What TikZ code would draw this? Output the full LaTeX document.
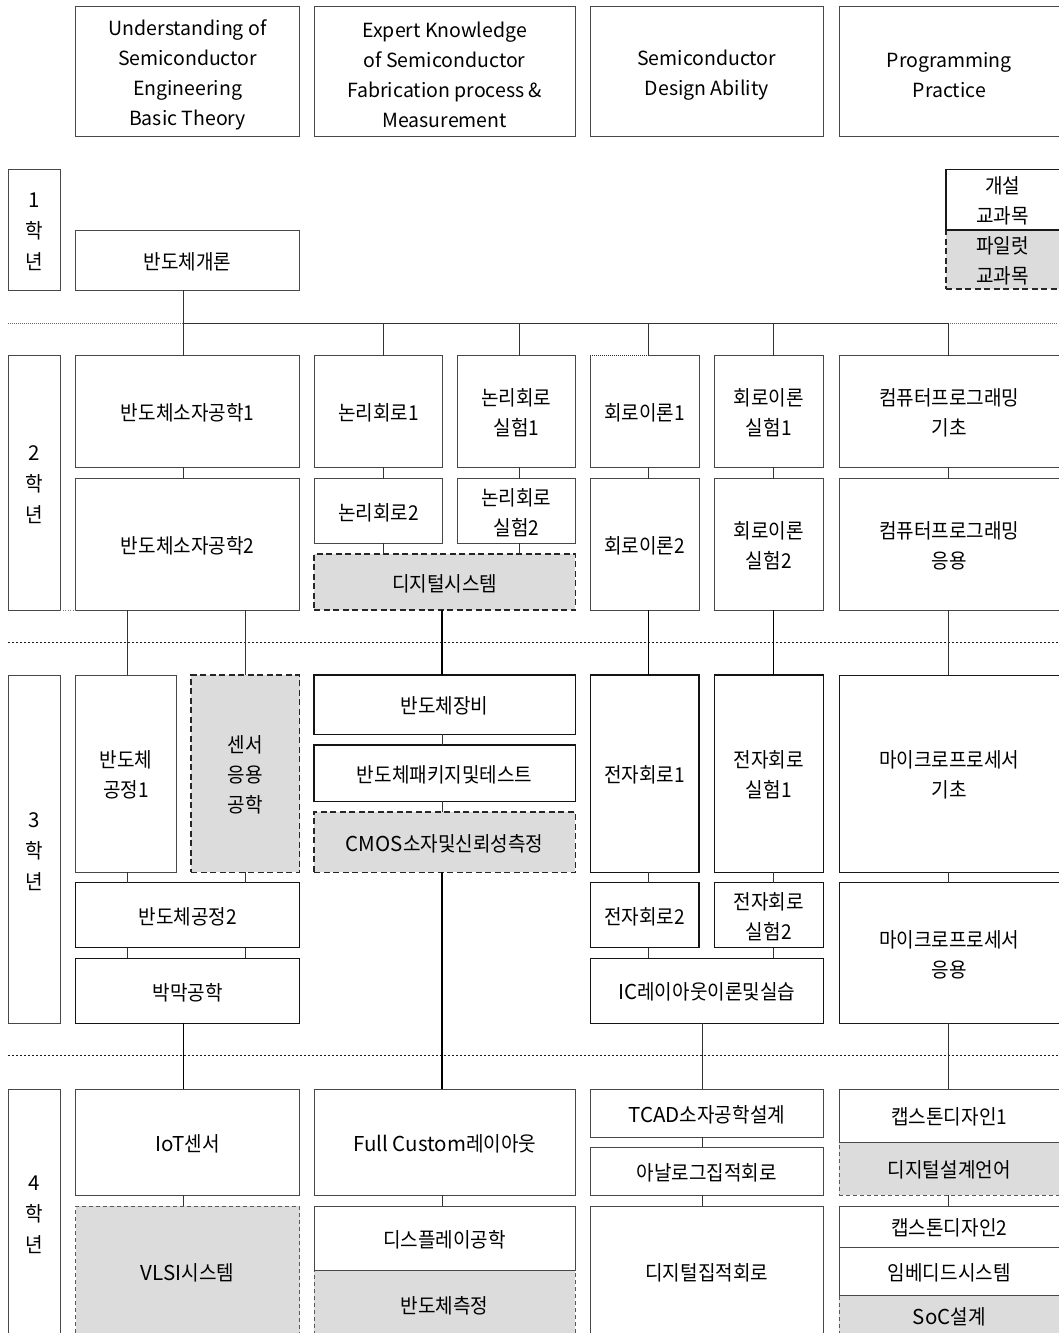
\documentclass[tikz,border=0pt]{standalone}
\usepackage{fontspec}
\setmainfont{Noto Sans CJK KR}
\newfontfamily\kr[FakeStretch=0.93]{Noto Sans CJK KR}
\newfontfamily\la{Noto Sans CJK KR}
\definecolor{pilc}{RGB}{220,220,220}
\newcommand\bx[8][]{%
 \pgfmathsetmacro\bxw{#5-#3}\pgfmathsetmacro\bxh{#6-#4}%
 \node[box,#7,anchor=north west,minimum width=\bxw pt,minimum height=\bxh pt] (#2) at (#3,#4) {};
 \node[txt,#1] (#2t) at ([yshift=-1.5pt]#2.center) {#8};}
\begin{document}
\begin{tikzpicture}[x=1pt,y=-1pt,
  box/.style={draw=black!72, line width=0.9pt, inner sep=0pt, outer sep=0pt},
  txt/.style={align=center, inner sep=0pt, font=\kr\fontsize{20.5}{30}\selectfont},
  dk/.style={draw=black!92, line width=1.3pt},
  pil/.style={fill=pilc},
  dsh/.style={pil, draw=black!85, line width=1.3pt, dash pattern=on 6pt off 3.5pt},
  tdsh/.style={pil, draw=black!65, line width=0.8pt, dash pattern=on 4pt off 3pt},
  conn/.style={draw=black!80, line width=1pt},
  hdr/.style={font=\la\fontsize{19.5}{30}\selectfont, yshift=-2.5pt},
  lab/.style={font=\kr\fontsize{20.5}{31}\selectfont, yshift=-0.5pt},
  sepA/.style={draw=black!60, line width=0.7pt, dash pattern=on 1pt off 1pt},
  sepB/.style={draw=black!90, line width=1.2pt, dash pattern=on 2pt off 2pt},
]
\useasboundingbox (0,0) rectangle (1058,1333);
% column coordinates for connectors
\coordinate (xA) at (183.2,0);
\coordinate (xB) at (383,0);
\coordinate (xC) at (519.9,0);
\coordinate (xD) at (648.3,0);
\coordinate (xE) at (773.7,0);
\coordinate (xF) at (948,0);
\coordinate (xG) at (127.8,0);
\coordinate (xH) at (245.7,0);
\coordinate (xI) at (442.1,0);
\coordinate (xJ) at (702.8,0);

% separators
\draw[sepA] (8,323.3) -- (1058,323.3);
\draw[sepB] (8,642.3) -- (1058,642.3);
\draw[sepB] (8,1055.7) -- (1058,1055.7);

% headers
\bx[hdr]{h1}{75.7}{6}{299.5}{136}{}{Understanding of\\Semiconductor\\Engineering\\Basic Theory}
\bx[hdr]{h2}{314}{6}{575.3}{136}{}{Expert Knowledge\\of Semiconductor\\Fabrication process \&\\Measurement}
\bx[hdr]{h3}{590}{6}{823.5}{136}{}{Semiconductor\\Design Ability}
\bx[hdr]{h4}{839}{6}{1059.5}{136}{}{Programming\\Practice}

% year labels
\bx[lab]{y1}{8.45}{169}{60.2}{290}{}{{\la 1}\\학\\년}
\bx[lab]{y2}{8.45}{355.7}{60.2}{610}{}{{\la 2}\\학\\년}
\bx[lab]{y3}{8.45}{675}{60.2}{1023.3}{}{{\la 3}\\학\\년}
\bx[lab]{y4}{8.45}{1089}{60.2}{1336}{}{{\la 4}\\학\\년}

% year 1
\bx{intro}{75.7}{230}{299.5}{290}{}{반도체개론}
\bx{lgb}{946}{230}{1059.5}{289}{dsh}{파일럿\\교과목}
\bx{lgt}{946}{169.5}{1059.5}{230}{draw=black!90, line width=1.3pt}{개설\\교과목}

% year 2
\bx{sd1}{75.7}{355.7}{299.5}{467.3}{}{반도체소자공학1}
\bx{sd2}{75.7}{478.7}{299.5}{610}{}{반도체소자공학2}
\bx{lc1}{314}{355.7}{442.8}{467.3}{}{논리회로1}
\bx{lc2}{314}{478.7}{442.8}{543.3}{}{논리회로2}
\bx{ll1}{457.3}{355.7}{575.3}{467.3}{}{논리회로\\실험1}
\bx{ll2}{457.3}{478.7}{575.3}{543.3}{}{논리회로\\실험2}
\bx{ds}{314}{554}{575.3}{610}{dsh}{디지털시스템}
\bx{ct1}{590.2}{355.7}{699}{467.3}{}{회로이론1}
\bx{ct2}{590.2}{478.7}{699}{610}{}{회로이론2}
\bx{cl1}{714.2}{355.7}{823.4}{467.3}{}{회로이론\\실험1}
\bx{cl2}{714.2}{478.7}{823.4}{610}{}{회로이론\\실험2}
\bx{cp1}{839}{355.7}{1059.5}{467.3}{}{컴퓨터프로그래밍\\기초}
\bx{cp2}{839}{478.7}{1059.5}{610}{}{컴퓨터프로그래밍\\응용}

% year 3
\bx{sp1}{75.7}{675}{176.1}{872.3}{}{반도체\\공정1}
\bx{sen}{191}{675}{299.5}{872.3}{dsh}{센서\\응용\\공학}
\bx{sp2}{75.7}{882.7}{299.5}{947.7}{dk}{반도체공정2}
\bx{tf}{75.7}{958.3}{299.5}{1023.3}{dk}{박막공학}
\bx{eq}{314}{675}{575.3}{734.3}{dk}{반도체장비}
\bx{pk}{314}{745}{575.3}{801.3}{dk}{반도체패키지및테스트}
\bx{cm}{314}{812}{575.3}{872.3}{dsh}{{\la CMOS}소자및신뢰성측정}
\bx{ec1}{590.2}{675}{699}{872.3}{dk}{전자회로1}
\bx{ec2}{590.2}{882.7}{699}{947.7}{dk}{전자회로2}
\bx{el1}{714.2}{675}{823.4}{872.3}{dk}{전자회로\\실험1}
\bx{el2}{714.2}{882.7}{823.4}{947.7}{dk}{전자회로\\실험2}
\bx{ic}{590.2}{958.3}{823.4}{1023.3}{dk}{{\la IC}레이아웃이론및실습}
\bx{mp1}{839}{675}{1059.5}{872.3}{draw=black!90}{마이크로프로세서\\기초}
\bx{mp2}{839}{882.7}{1059.5}{1023.3}{draw=black!90}{마이크로프로세서\\응용}

% year 4
\bx{iot}{75.7}{1089}{299.5}{1195.3}{}{{\la IoT}센서}
\bx{vlsi}{75.7}{1206.3}{299.5}{1336}{tdsh}{{\la VLSI}시스템}
\bx{fc}{314}{1089}{575.3}{1195.3}{}{{\la Full Custom}레이아웃}
\bx{meas}{314}{1270.3}{575.3}{1338}{tdsh}{반도체측정}
\bx{disp}{314}{1206.3}{575.3}{1270.3}{}{디스플레이공학}
\bx{tcad}{590.2}{1089}{823.4}{1137}{}{{\la TCAD}소자공학설계}
\bx{aic}{590.2}{1147.3}{823.4}{1195.3}{}{아날로그집적회로}
\bx{dic}{590.2}{1206.3}{823.4}{1336}{}{디지털집적회로}
\bx{dsl}{839}{1142.3}{1059.5}{1195.3}{tdsh}{디지털설계언어}
\bx{cap1}{839}{1089}{1059.5}{1142.3}{}{캡스톤디자인1}
\bx{soc}{839}{1295}{1059.5}{1336}{tdsh}{{\la SoC}설계}
\bx{cap2}{839}{1206.3}{1059.5}{1247}{}{캡스톤디자인2}
\bx{emb}{839}{1247}{1059.5}{1295}{}{임베디드시스템}

% small dotted artefacts
\draw[white, line width=1.3pt] (ct1.north west) -- (ct1.north west -| xD);
\draw[black!85, line width=1pt, dash pattern=on 1pt off 1pt] (ct1.north west) -- (ct1.north west -| xD);
\draw[black!50, line width=0.8pt, dash pattern=on 1pt off 1.5pt] (y2.south east) -- (sd2.south west);

% connectors: bus from year 1
\coordinate (bl) at (183.2,323.3);
\coordinate (br) at (948,323.3);
\draw[conn] (intro.south -| xA) -- (bl) -- (br);
\draw[conn] (bl) -- (sd1.north -| xA);
\draw[conn] (xB |- bl) -- (lc1.north -| xB);
\draw[conn] (xC |- bl) -- (ll1.north -| xC);
\draw[conn] (xD |- bl) -- (ct1.north -| xD);
\draw[conn] (xE |- bl) -- (cl1.north -| xE);
\draw[conn] (br) -- (cp1.north -| xF);
% year 2 internal
\draw[conn] (sd1.south -| xA) -- (sd2.north -| xA);
\draw[conn] (lc1.south -| xB) -- (lc2.north -| xB);
\draw[conn] (lc2.south -| xB) -- (ds.north -| xB);
\draw[conn] (ll1.south -| xC) -- (ll2.north -| xC);
\draw[conn] (ll2.south -| xC) -- (ds.north -| xC);
\draw[conn] (ct1.south -| xD) -- (ct2.north -| xD);
\draw[conn] (cl1.south -| xE) -- (cl2.north -| xE);
\draw[conn] (cp1.south -| xF) -- (cp2.north -| xF);
% year 2 -> 3
\draw[conn] (sd2.south -| xG) -- (sp1.north -| xG);
\draw[conn] (sd2.south -| xH) -- (sen.north -| xH);
\draw[conn, draw=black, line width=1.3pt] (ds.south -| xI) -- (eq.north -| xI);
\draw[conn, draw=black] (ct2.south -| xD) -- (ec1.north -| xD);
\draw[conn, draw=black] (cl2.south -| xE) -- (el1.north -| xE);
\draw[conn] (cp2.south -| xF) -- (mp1.north -| xF);
% year 3 internal
\draw[conn] (sp1.south -| xG) -- (sp2.north -| xG);
\draw[conn] (sen.south -| xH) -- (sp2.north -| xH);
\draw[conn] (sp2.south -| xG) -- (tf.north -| xG);
\draw[conn] (sp2.south -| xH) -- (tf.north -| xH);
\draw[conn] (eq.south -| xI) -- (pk.north -| xI);
\draw[conn] (pk.south -| xI) -- (cm.north -| xI);
\draw[conn] (ec1.south -| xD) -- (ec2.north -| xD);
\draw[conn] (el1.south -| xE) -- (el2.north -| xE);
\draw[conn] (ec2.south -| xD) -- (ic.north -| xD);
\draw[conn] (el2.south -| xE) -- (ic.north -| xE);
\draw[conn] (mp1.south -| xF) -- (mp2.north -| xF);
% year 3 -> 4
\draw[conn, draw=black] (tf.south -| xA) -- (iot.north -| xA);
\draw[conn, draw=black, line width=1.3pt] (cm.south -| xI) -- (fc.north -| xI);
\draw[conn] (ic.south -| xJ) -- (tcad.north -| xJ);
\draw[conn] (mp2.south -| xF) -- (cap1.north -| xF);
% year 4 internal
\draw[conn] (iot.south -| xA) -- (vlsi.north -| xA);
\draw[conn] (fc.south -| xI) -- (disp.north -| xI);
\draw[conn] (tcad.south -| xJ) -- (aic.north -| xJ);
\draw[conn] (aic.south -| xJ) -- (dic.north -| xJ);
\draw[conn] (dsl.south -| xF) -- (cap2.north -| xF);
\end{tikzpicture}
\end{document}
